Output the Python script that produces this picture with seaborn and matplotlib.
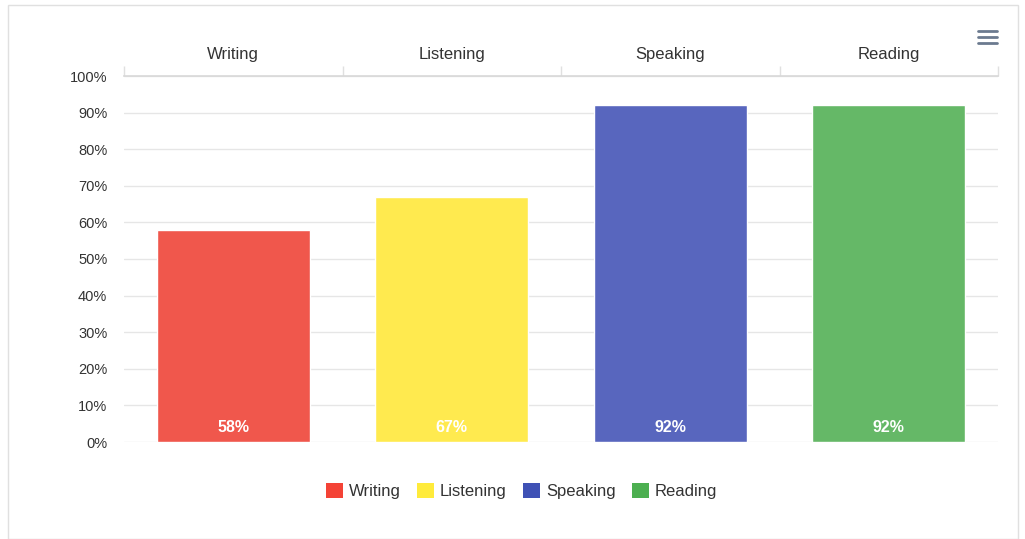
import matplotlib
matplotlib.use("Agg")
import matplotlib.pyplot as plt
import seaborn as sns
import pandas as pd
from matplotlib.patches import Rectangle
from matplotlib.lines import Line2D

categories = ["Writing", "Listening", "Speaking", "Reading"]
values = [58, 67, 92, 92]
bar_colors = ["#F0574C", "#FFEA4F", "#5866BE", "#65B867"]
legend_colors = ["#F44336", "#FFEB3B", "#3F51B5", "#4CAF50"]
y_ticks = [0, 10, 20, 30, 40, 50, 60, 70, 80, 90, 100]

df = pd.DataFrame({"skill": categories, "value": values})

sns.set_theme(style="white")
plt.rcParams["font.family"] = ["Liberation Sans", "DejaVu Sans"]

fig = plt.figure(figsize=(10.25, 5.39), dpi=100)
ax = fig.add_axes([124/1025, 1 - 442/539, (998-124)/1025, (442-76)/539])

sns.barplot(data=df, x="skill", y="value", hue="skill", palette=bar_colors,
            order=categories, hue_order=categories, dodge=False, width=0.7,
            legend=False, ax=ax, saturation=1)

ax.set_ylim(0, 100)
ax.set_xlim(-0.5, 3.5)
ax.set_yticks(y_ticks)
ax.set_yticklabels([f"{t}%" for t in y_ticks], fontsize=10.5, color="#333333")
ax.yaxis.grid(True, color="#e6e6e6", linewidth=1)
ax.set_axisbelow(True)
ax.xaxis.tick_top()
ax.set_xticks(range(len(categories)))
ax.set_xticklabels(categories, fontsize=12, color="#333333")
ax.tick_params(axis="x", length=0, pad=10)
ax.tick_params(axis="y", length=0, pad=12)
# category boundary ticks on top axis
ax.set_xticks([-0.5, 0.5, 1.5, 2.5, 3.5], minor=True)
ax.tick_params(axis="x", which="minor", length=7, color="#e0e0e0", top=True, bottom=False, direction="out")
ax.set_xlabel("")
ax.set_ylabel("")
for s in ["left", "right", "bottom"]:
    ax.spines[s].set_visible(False)
ax.spines["top"].set_color("#d8d8d8")
ax.spines["top"].set_linewidth(1.2)

for i, v in enumerate(values):
    ax.text(i, 4, f"{v}%", ha="center", va="center", color="white",
            fontsize=11.5, fontweight="bold")

# legend
handles = [Rectangle((0, 0), 1, 1, facecolor=c, edgecolor="none") for c in legend_colors]
fig.legend(handles, categories, loc="center", bbox_to_anchor=(0.509, 1 - 491/539),
           ncol=4, frameon=False, fontsize=12, handlelength=1.0, handleheight=1.0,
           handletextpad=0.35, columnspacing=1.0, labelcolor="#333333")

# outer border
fig.add_artist(Rectangle((8/1025, 0), (1018-8)/1025, 1 - 5/539, transform=fig.transFigure,
                         fill=False, edgecolor="#e0e0e0", linewidth=1))
# hamburger menu icon
for yy in [31, 37, 43]:
    fig.add_artist(Line2D([978/1025, 997/1025], [1 - yy/539, 1 - yy/539],
                          transform=fig.transFigure, color="#6b7a8f", linewidth=2))

fig.savefig("out.png", dpi=100)
